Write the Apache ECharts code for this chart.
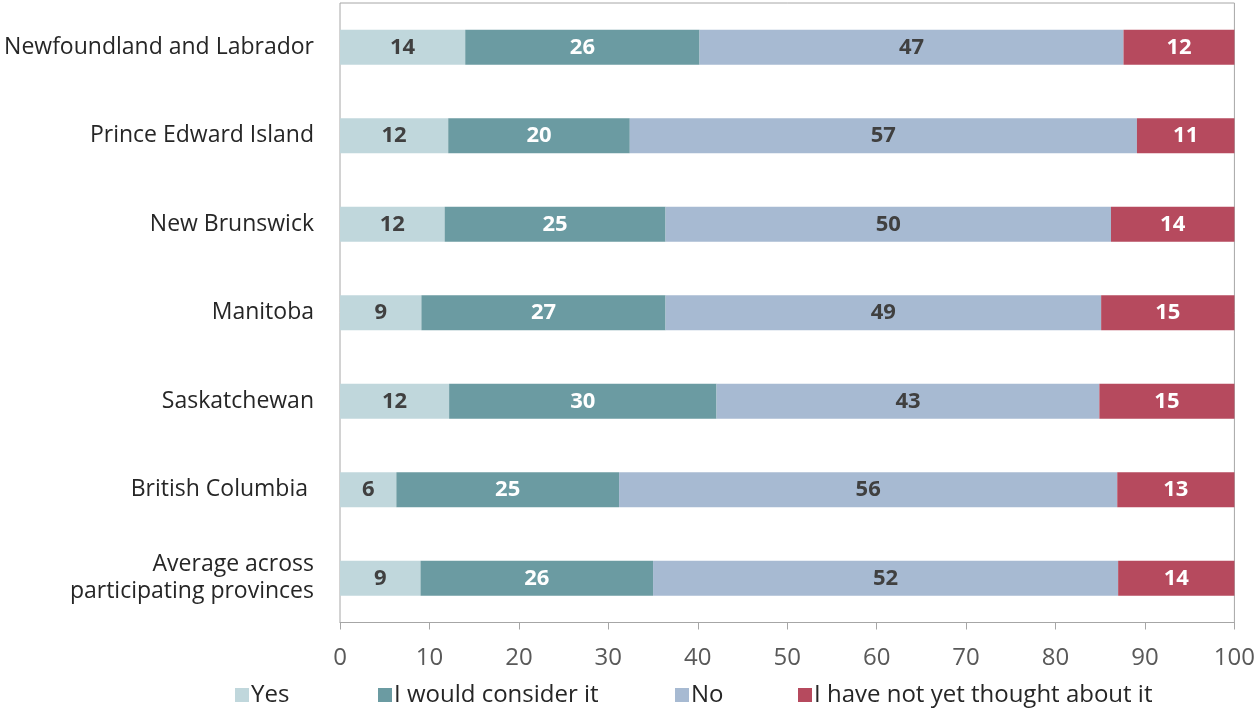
<!DOCTYPE html>
<html>
<head>
<meta charset="utf-8">
<title>Stacked bars</title>
<script src="https://cdn.jsdelivr.net/npm/echarts@6/dist/echarts.min.js"></script>
<style>
html, body { margin: 0; padding: 0; background: #fff; }
#main { width: 1258px; height: 708px; }
</style>
</head>
<body>
<div id="main"></div>
<script>
var provinces = ['Newfoundland and Labrador', 'Prince Edward Island', 'New Brunswick', 'Manitoba',
    'Saskatchewan', 'British Columbia ', 'Average across\nparticipating provinces'];
var yes = [14.0, 12.1, 11.7, 9.1, 12.2, 6.3, 9.0];
var consider = [26.2, 20.3, 24.7, 27.3, 29.9, 24.9, 26.0];
var no = [47.4, 56.7, 49.8, 48.7, 42.8, 55.7, 52.0];
var notThought = [12.4, 10.9, 13.8, 14.9, 15.1, 13.1, 13.5];
var xTicks = [0, 10, 20, 30, 40, 50, 60, 70, 80, 90, 100];
var seriesNames = ['Yes', 'I would consider it', 'No', 'I have not yet thought about it'];

var font = '"Open Sans", "Noto Sans", sans-serif';

var myChart = echarts.init(document.getElementById('main'));

function makeSeries(name, data, color, labelColor) {
    return {
        name: name,
        type: 'bar',
        stack: 'all',
        data: data,
        barWidth: 35,
        itemStyle: { color: color },
        label: {
            show: true,
            position: 'inside',
            color: labelColor,
            fontFamily: font,
            fontWeight: 'bold',
            fontSize: 22,
            formatter: function (p) { return Math.round(p.value); }
        }
    };
}

// one legend per item so each sits where the original puts it
var legendLeft = [230, 373, 670, 793];
var legends = seriesNames.map(function (n, i) {
    return {
        data: [n],
        left: legendLeft[i],
        top: 678,
        itemWidth: 14,
        itemHeight: 14,
        icon: 'rect',
        selectedMode: false,
        textStyle: { fontFamily: font, fontSize: 24, color: '#262626', padding: [0, 0, 0, -3] }
    };
});

var option = {
    animation: false,
    backgroundColor: '#fff',
    grid: {
        left: 340,
        right: 23,
        top: 3,
        bottom: 85.5,
        show: true,
        borderColor: '#a6a6a6',
        borderWidth: 1
    },
    legend: legends,
    xAxis: {
        type: 'value',
        min: 0,
        max: 100,
        interval: 10,
        splitLine: { show: false },
        axisLine: { show: true, lineStyle: { color: '#a6a6a6', width: 1 } },
        axisTick: { show: true, length: 7, lineStyle: { color: '#a6a6a6' } },
        axisLabel: {
            color: '#595959',
            fontFamily: font,
            fontSize: 24,
            margin: 24,
            formatter: function (v) { return xTicks.indexOf(v) >= 0 ? String(v) : ''; }
        }
    },
    yAxis: {
        type: 'category',
        data: provinces,
        inverse: true,
        axisLine: { show: false },
        axisTick: { show: false },
        axisLabel: {
            color: '#262626',
            fontFamily: font,
            fontSize: 23,
            lineHeight: 27,
            margin: 26,
            padding: [4, 0, 0, 0]
        }
    },
    series: [
        makeSeries(seriesNames[0], yes, '#c0d7dc', '#404040'),
        makeSeries(seriesNames[1], consider, '#6b9ba2', '#ffffff'),
        makeSeries(seriesNames[2], no, '#a7bad2', '#404040'),
        makeSeries(seriesNames[3], notThought, '#b64a5e', '#ffffff')
    ]
};

if (option && typeof option === 'object') {
    myChart.setOption(option, true);
}
</script>
</body>
</html>
